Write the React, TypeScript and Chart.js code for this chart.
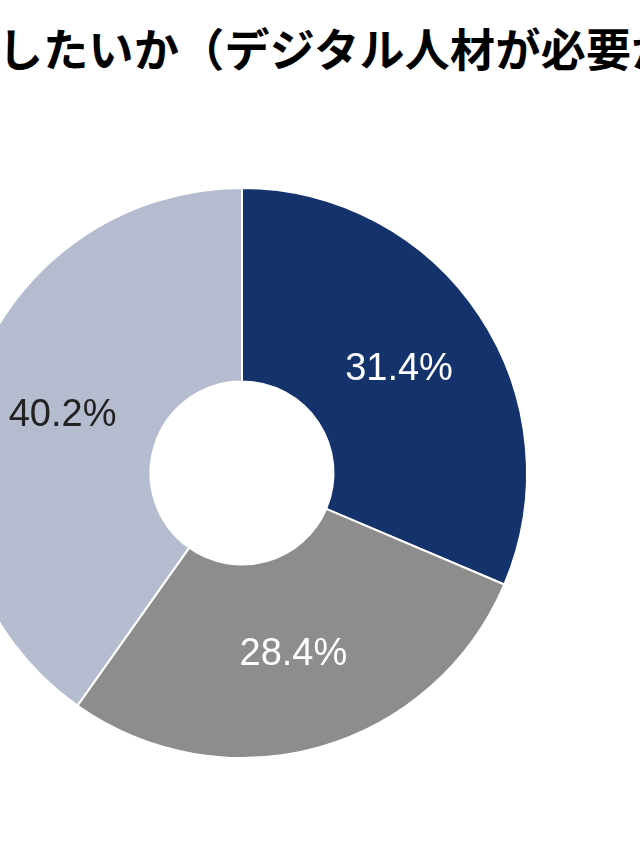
import React, { useEffect, useRef } from "react";
import { Chart, registerables } from "chart.js";

Chart.register(...registerables);

const titleText = "したいか（デジタル人材が必要か）";
const categories = ["A", "B", "C"];
const values = [31.4, 28.4, 40.2];
const valueLabels = ["31.4%", "28.4%", "40.2%"];
const sliceColors = ["#14326b", "#8e8d8d", "#b6bccf"];
const labelColors = ["#ffffff", "#ffffff", "#222222"];

const labelPlugin = {
  id: "sliceLabels",
  afterDatasetsDraw(chart: any) {
    const ctx = chart.ctx;
    const meta = chart.getDatasetMeta(0);
    ctx.save();
    ctx.font = "38px 'Liberation Sans', Arial, sans-serif";
    ctx.textAlign = "center";
    ctx.textBaseline = "middle";
    meta.data.forEach((arc: any, i: number) => {
      const p = arc.tooltipPosition();
      ctx.fillStyle = labelColors[i];
      ctx.fillText(valueLabels[i], p.x, p.y);
    });
    ctx.restore();
  },
};

export default function App() {
  const ref = useRef<HTMLCanvasElement>(null);
  useEffect(() => {
    if (!ref.current) return;
    const chart = new Chart(ref.current, {
      type: "doughnut",
      data: {
        labels: categories,
        datasets: [
          {
            data: values,
            backgroundColor: sliceColors,
            borderColor: "#ffffff",
            borderWidth: 2,
          },
        ],
      },
      options: {
        animation: false,
        responsive: false,
        radius: 285,
        cutout: 96,
        layout: { padding: 0 },
        plugins: {
          legend: { display: false },
          tooltip: { enabled: false },
          title: { display: false },
        },
      },
      plugins: [labelPlugin],
    });
    return () => chart.destroy();
  }, []);

  return (
    <div
      style={{
        position: "fixed",
        left: 0,
        top: 0,
        width: 640,
        height: 853,
        overflow: "hidden",
        background: "#ffffff",
      }}
    >
      <div
        style={{
          position: "absolute",
          left: -2,
          top: 25,
          whiteSpace: "nowrap",
          fontFamily: "'Noto Sans CJK JP', sans-serif",
          fontWeight: 700,
          fontSize: 45,
          lineHeight: "45px",
          letterSpacing: "0.3px",
          color: "#000000",
        }}
      >
        {titleText}
      </div>
      <canvas
        ref={ref}
        width={600}
        height={600}
        style={{ position: "absolute", left: -58, top: 173, width: 600, height: 600 }}
      />
    </div>
  );
}
